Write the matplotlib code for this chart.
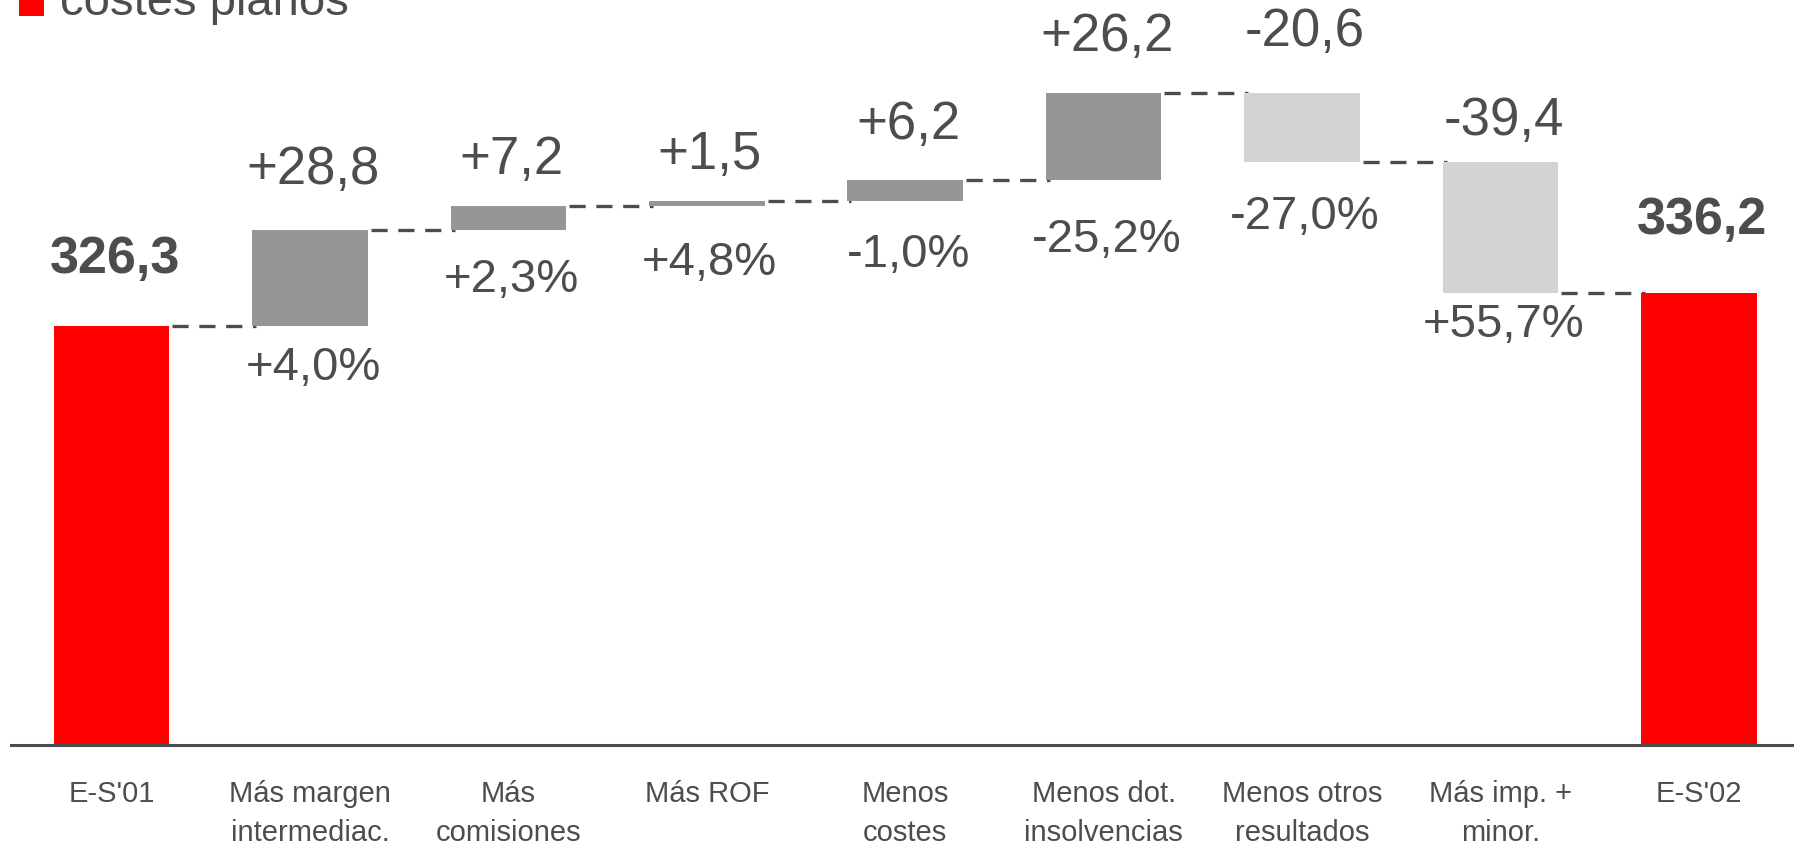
import matplotlib
matplotlib.use("Agg")
import matplotlib.pyplot as plt
from matplotlib.patches import Rectangle

plt.rcParams['font.family'] = ['Liberation Sans', 'DejaVu Sans']

# ---- data ----
categories = ["E-S'01", "Más margen\nintermediac.", "Más\ncomisiones", "Más ROF",
              "Menos\ncostes", "Menos dot.\ninsolvencias", "Menos otros\nresultados",
              "Más imp. +\nminor.", "E-S'02"]
start_total = 326.3
changes = [28.8, 7.2, 1.5, 6.2, 26.2, -20.6, -39.4]
end_total = 336.2
value_labels = ["326,3", "+28,8", "+7,2", "+1,5", "+6,2", "+26,2", "-20,6", "-39,4", "336,2"]
pct_labels = [None, "+4,0%", "+2,3%", "+4,8%", "-1,0%", "-25,2%", "-27,0%", "+55,7%", None]
legend_label = "costes planos"

# ---- style ----
RED = "#ff0000"
GRAY = "#969696"
LIGHT = "#d3d3d3"
TXT = "#4d4d4d"
W, H = 1794, 846
PX = 1 / 198.4  # one pixel in x data units
fig = plt.figure(figsize=(W / 100, H / 100), dpi=100)
ax = fig.add_axes([11 / W, (H - 745) / H, 1 - 11 / W, 745 / H])
ax.set_xlim(-0.507, 8.48)
ax.set_ylim(201.0, 201.0 + 745 / 3.341)
for s in ["top", "left", "right"]:
    ax.spines[s].set_visible(False)
ax.spines["bottom"].set_color(TXT)
ax.spines["bottom"].set_linewidth(2.2)
ax.set_yticks([])
ax.set_xticks(range(len(categories)))
ax.set_xticklabels(categories, fontsize=21, color=TXT, linespacing=1.5)
ax.tick_params(axis="x", length=0, pad=25)

bw = 0.583
bottoms, tops, colors = [], [], []
bottoms.append(0); tops.append(start_total); colors.append(RED)
level = start_total
levels = [start_total]
for c in changes:
    new = level + c
    bottoms.append(min(level, new)); tops.append(max(level, new))
    colors.append(GRAY if c > 0 else LIGHT)
    level = new
    levels.append(level)
bottoms.append(0); tops.append(end_total); colors.append(RED)

for i, (b, t, col) in enumerate(zip(bottoms, tops, colors)):
    ax.bar(i, t - b, bottom=b, width=bw, color=col, linewidth=0, zorder=2)

# dashed connectors
for i, lv in enumerate(levels):
    x0 = i + bw / 2 + 3 * PX
    x1 = i + 1 - bw / 2 + 4 * PX
    ax.plot([x0, x1], [lv, lv], color=TXT, lw=2.4, linestyle=(0, (4.85, 3.2)),
            dash_capstyle="butt", zorder=1)

# labels
val_off = [67, 60, 46, 46, 55, 56, 61, 41, 73]
pct_off = [0, 42, 50, 57, 54, 60, 55, 32, 0]
for i, lab in enumerate(value_labels):
    bold = i in (0, len(value_labels) - 1)
    ax.annotate(lab, (i, tops[i]), xytext=(3, val_off[i]), textcoords="offset pixels",
                ha="center", va="center", fontsize=37.5 if bold else 38, color=TXT,
                fontweight="bold" if bold else "normal", annotation_clip=False)
for i, lab in enumerate(pct_labels):
    if lab is None:
        continue
    ax.annotate(lab, (i, bottoms[i]), xytext=(3, -pct_off[i]), textcoords="offset pixels",
                ha="center", va="center", fontsize=34, color=TXT, annotation_clip=False)

# legend marker and text (cut at the top edge, as in the source)
fig.patches.append(Rectangle((19 / W, 1 - 16 / H), 25 / W, 21 / H, transform=fig.transFigure,
                             facecolor=RED, edgecolor="none"))
fig.text(60 / W, 1 - 15 / H, legend_label, fontsize=34, color=TXT, ha="left", va="baseline")

fig.savefig("out.png", dpi=100)
